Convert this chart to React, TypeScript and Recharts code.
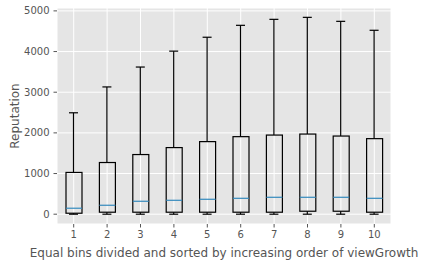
import { Bar, CartesianGrid, ComposedChart, XAxis, YAxis } from 'recharts'

const bins = ['1', '2', '3', '4', '5', '6', '7', '8', '9', '10']
const lowWhisker = [0, 0, 0, 0, 0, 0, 0, 0, 0, 0]
const q1 = [24, 49, 49, 49, 49, 49, 49, 73, 73, 49]
const median = [147, 220, 318, 342, 367, 391, 416, 416, 416, 391]
const q3 = [1027, 1271, 1467, 1638, 1785, 1907, 1946, 1971, 1922, 1858]
const highWhisker = [2494, 3130, 3619, 4010, 4352, 4645, 4792, 4841, 4743, 4523]
const yTicks = [0, 1000, 2000, 3000, 4000, 5000]

const data = bins.map((bin, i) => ({
  bin,
  box: [q1[i], q3[i]],
  upper: [q3[i], highWhisker[i]],
  lower: [lowWhisker[i], q1[i]],
  med: [median[i], median[i]],
}))

const font = 'DejaVu Sans, sans-serif'

const norm = (p: any) => {
  const h = Number(p.height) || 0
  const y = h < 0 ? p.y + h : p.y
  return { x: p.x, y, w: p.width, h: Math.abs(h) }
}

const BoxShape = (p: any) => {
  const r = norm(p)
  return <rect x={r.x} y={r.y} width={r.w} height={r.h} fill="none" stroke="#000" strokeWidth={1.2} />
}

const UpperShape = (p: any) => {
  const r = norm(p)
  const cx = r.x + r.w / 2
  return (
    <g stroke="#000" strokeWidth={1.2}>
      <line x1={cx} x2={cx} y1={r.y} y2={r.y + r.h} />
      <line x1={r.x} x2={r.x + r.w} y1={r.y} y2={r.y} />
    </g>
  )
}

const LowerShape = (p: any) => {
  const r = norm(p)
  const cx = r.x + r.w / 2
  return (
    <g stroke="#000" strokeWidth={1.2}>
      <line x1={cx} x2={cx} y1={r.y} y2={r.y + r.h} />
      <line x1={r.x} x2={r.x + r.w} y1={r.y + r.h} y2={r.y + r.h} />
    </g>
  )
}

const MedianShape = (p: any) => {
  const r = norm(p)
  return <line x1={r.x} x2={r.x + r.w} y1={r.y} y2={r.y} stroke="#348ABD" strokeWidth={1.2} />
}

export default function App() {
  return (
    <div style={{ position: 'fixed', left: 0, top: 0, width: 426, height: 266, background: '#fff' }}>
      <ComposedChart
        width={426}
        height={266}
        data={data}
        margin={{ top: 8, right: 35, bottom: 0, left: 0 }}
        style={{ fontFamily: font }}
      >
        <CartesianGrid fill="#E5E5E5" stroke="#fff" strokeWidth={1} />
        <XAxis
          dataKey="bin"
          height={42}
          axisLine={false}
          tickLine={{ stroke: '#555' }}
          tickSize={3.5}
          tickMargin={3}
          tick={{ fill: '#555', fontSize: 10 }}
          interval={0}
          label={{ value: 'Equal bins divided and sorted by increasing order of viewGrowth', position: 'insideBottom', offset: 9, fill: '#555', fontSize: 12 }}
        />
        <XAxis xAxisId="b" dataKey="bin" hide />
        <XAxis xAxisId="u" dataKey="bin" hide />
        <XAxis xAxisId="l" dataKey="bin" hide />
        <XAxis xAxisId="m" dataKey="bin" hide />
        <YAxis
          width={57}
          domain={[-241, 5071]}
          allowDataOverflow
          ticks={yTicks}
          axisLine={false}
          tickLine={{ stroke: '#555' }}
          tickSize={3.5}
          tickMargin={4}
          tick={{ fill: '#555', fontSize: 10 }}
          label={{ value: 'Reputation', angle: -90, position: 'insideLeft', offset: 15, fill: '#555', fontSize: 12, style: { textAnchor: 'middle' } }}
        />
        <Bar xAxisId="u" dataKey="upper" barSize={9} shape={UpperShape} isAnimationActive={false} />
        <Bar xAxisId="l" dataKey="lower" barSize={9} shape={LowerShape} isAnimationActive={false} />
        <Bar xAxisId="b" dataKey="box" barSize={16} shape={BoxShape} isAnimationActive={false} />
        <Bar xAxisId="m" dataKey="med" barSize={16} shape={MedianShape} isAnimationActive={false} />
      </ComposedChart>
    </div>
  )
}
